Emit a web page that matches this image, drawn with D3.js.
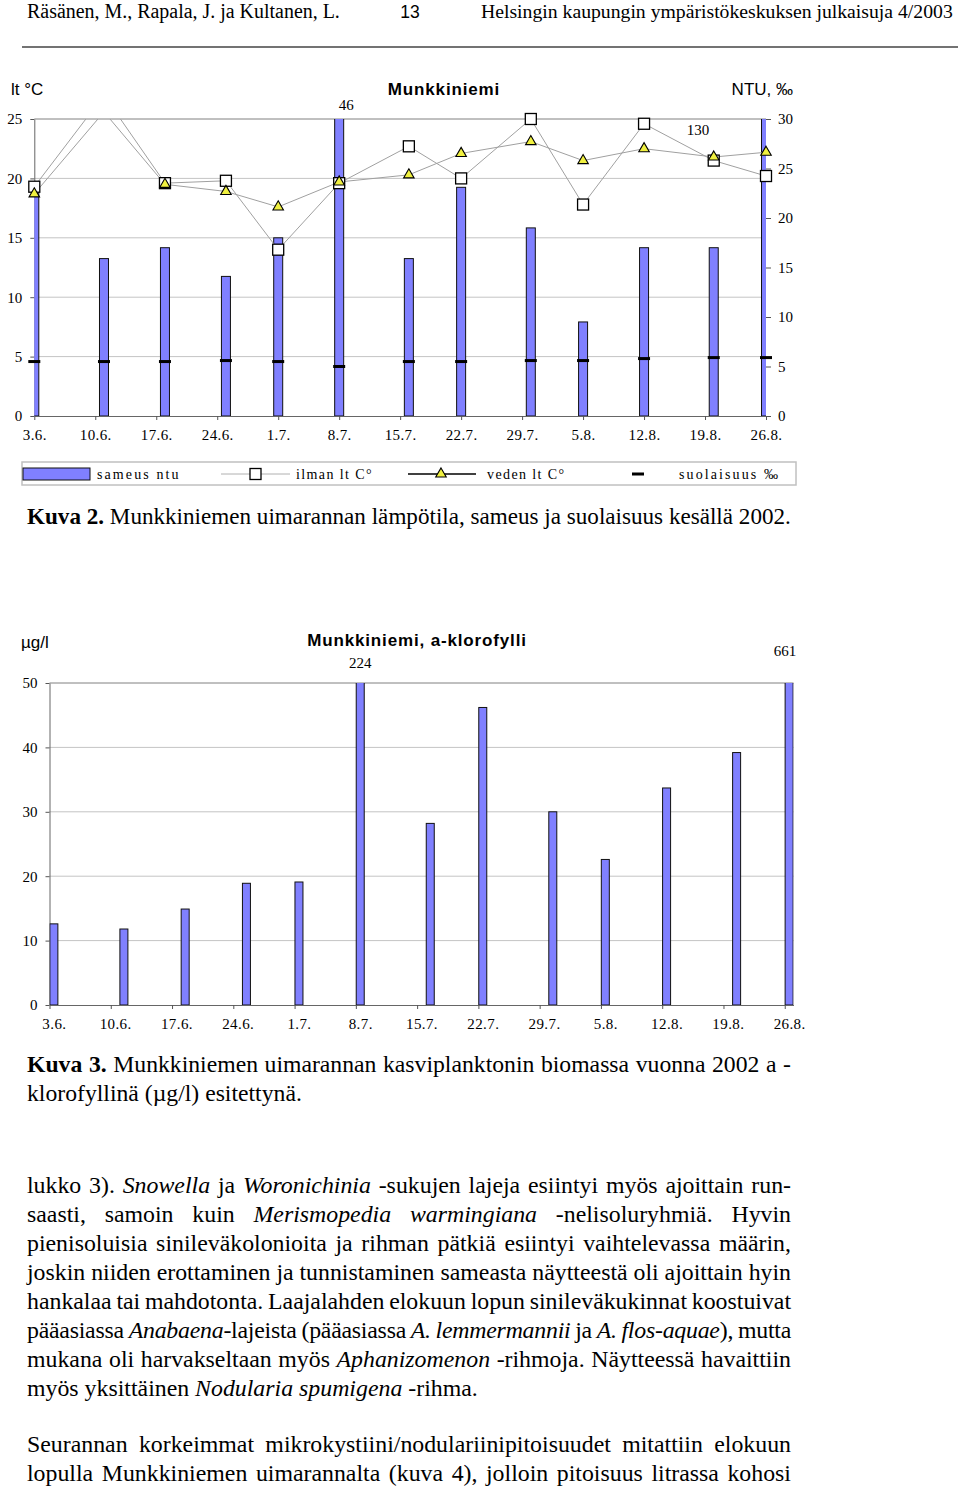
<!DOCTYPE html>
<html><head><meta charset="utf-8">
<script src="https://cdn.jsdelivr.net/npm/d3@7"></script>
<style>
body{margin:0;background:#fff;}
svg{display:block;}
</style></head><body>
<script>
// ---------- DATA ----------
const sampleDates = ["2002-06-03","2002-06-11","2002-06-18","2002-06-25","2002-07-01","2002-07-08","2002-07-16","2002-07-22","2002-07-30","2002-08-05","2002-08-12","2002-08-20","2002-08-26"];
const tickDates = ["2002-06-03","2002-06-10","2002-06-17","2002-06-24","2002-07-01","2002-07-08","2002-07-15","2002-07-22","2002-07-29","2002-08-05","2002-08-12","2002-08-19","2002-08-26"];
const tickLabels = ["3.6.","10.6.","17.6.","24.6.","1.7.","8.7.","15.7.","22.7.","29.7.","5.8.","12.8.","19.8.","26.8."];
const turbidity = [23.3,15.9,17.0,14.1,18.0,46,15.9,23.1,19.0,9.5,17.0,17.0,130];
const airTemp   = [19.3,27.0,19.6,19.8,14.0,19.6,22.7,20.0,25.0,17.8,24.6,21.5,20.2];
const waterTemp = [18.7,25.6,19.5,18.9,17.6,19.7,20.3,22.1,23.1,21.5,22.5,21.8,22.2];
const salinity  = [5.5,5.5,5.5,5.6,5.5,5.0,5.5,5.5,5.6,5.6,5.8,5.9,5.9];
const chlorophyll = [12.6,11.8,14.9,18.9,19.1,224,28.2,46.2,30.0,22.6,33.7,39.2,661];
const tempTicks = [0,5,10,15,20,25];
const rightTicks = [0,5,10,15,20,25,30];
const chlTicks = [0,10,20,30,40,50];
const legendLabels = ["sameus ntu","ilman lt C°","veden lt C°","suolaisuus ‰"];

// ---------- SETUP ----------
const SERIF = "'Liberation Serif','Times New Roman',serif";
const SANS = "'Liberation Sans',Arial,sans-serif";
const BAR = "#8080ff";
const svg = d3.select("body").append("svg").attr("width",960).attr("height",1490)
  .style("font-family",SERIF);
const parse = d3.utcParse("%Y-%m-%d");
const sd = sampleDates.map(parse), td = tickDates.map(parse);

function fit(sel, width){
  const w = sel.node().getComputedTextLength();
  const fs = parseFloat(sel.attr("font-size"));
  sel.attr("font-size", fs*width/w);
  return sel;
}

// rich text line: '*' toggles bold, '_' toggles italic
function richLine(g, str, x, y, fs, width, justify){
  const tokens = str.split(" ");
  let bold=false, ital=false;
  const nodes = [];
  tokens.forEach(tok=>{
    const t = g.append("text").attr("y",y).attr("font-size",fs).attr("fill","#000");
    let buf="";
    const flush=()=>{ if(buf){ t.append("tspan").attr("font-weight",bold?"bold":"normal").attr("font-style",ital?"italic":"normal").text(buf); buf=""; } };
    for(const ch of tok){
      if(ch==="*"){flush(); bold=!bold;}
      else if(ch==="_"){flush(); ital=!ital;}
      else buf+=ch;
    }
    flush();
    nodes.push(t);
  });
  let widths = nodes.map(n=>n.node().getComputedTextLength());
  let total = d3.sum(widths);
  let gap = (justify && nodes.length>1) ? (width-total)/(nodes.length-1) : fs*0.25;
  const minGap = fs*0.2;
  if(justify && gap < minGap){
    const chars = d3.sum(nodes, n=>n.text().length);
    const ls = ((nodes.length-1)*minGap - (width-total))/chars;
    nodes.forEach(n=>n.style("letter-spacing",(-ls)+"px"));
    widths = nodes.map(n=>n.node().getComputedTextLength());
    total = d3.sum(widths);
    gap = (width-total)/(nodes.length-1);
  }
  let cx = x;
  nodes.forEach((n,i)=>{ n.attr("x",cx); cx += widths[i]+gap; });
  return total + fs*0.25*(nodes.length-1);
}
function naturalSize(str, width){
  const g = svg.append("g");
  const w = richLine(g, str, 0, -100, 100, 0, false);
  g.remove();
  return 100*width/w;
}

// ---------- HEADER ----------
fit(svg.append("text").attr("x",27).attr("y",18).attr("font-size",18).text("Räsänen, M., Rapala, J. ja Kultanen, L."), 313);
svg.append("text").attr("x",410).attr("y",18).attr("text-anchor","middle").attr("font-size",17.5)
  .style("font-family",SANS).text("13");
fit(svg.append("text").attr("x",481).attr("y",18).attr("font-size",18).text("Helsingin kaupungin ympäristökeskuksen julkaisuja 4/2003"), 472);
svg.append("line").attr("x1",22).attr("x2",958).attr("y1",47).attr("y2",47).attr("stroke","#444").attr("stroke-width",1.3);

// ---------- CHART 1 ----------
{
  const L=34.3, R=766, T=119, B=416;
  const x = d3.scaleUtc().domain([sd[0], sd[12]]).range([L,R]);
  const yL = d3.scaleLinear().domain([0,25]).range([B,T]);
  const yR = d3.scaleLinear().domain([0,30]).range([B,T]);
  const g = svg.append("g");
  g.append("clipPath").attr("id","clip1").append("rect").attr("x",L).attr("y",T).attr("width",R-L).attr("height",B-T);

  g.selectAll(".grid").data([5,10,15,20]).join("line")
    .attr("x1",L).attr("x2",R).attr("y1",d=>yL(d)).attr("y2",d=>yL(d)).attr("stroke","#c4c4c4");
  g.append("line").attr("x1",L).attr("x2",R).attr("y1",yL(25)).attr("y2",yL(25)).attr("stroke","#808080");

  const axL = g.append("g").attr("transform",`translate(${L},0)`)
    .call(d3.axisLeft(yL).tickValues(tempTicks).tickSize(4).tickSizeOuter(0).tickPadding(8));
  const axR = g.append("g").attr("transform",`translate(${R},0)`)
    .call(d3.axisRight(yR).tickValues(rightTicks).tickSize(5).tickSizeOuter(0).tickPadding(7));
  const axB = g.append("g").attr("transform",`translate(0,${B})`)
    .call(d3.axisBottom(x).tickValues(td).tickFormat((d,i)=>tickLabels[i]).tickSize(4).tickSizeOuter(0).tickPadding(9));
  [axL,axR,axB].forEach(a=>{
    a.selectAll("text").attr("font-family",SERIF).attr("font-size",15).attr("fill","#000");
    a.selectAll("line").attr("stroke","#555");
    a.select(".domain").attr("stroke","#666");
  });
  axB.selectAll("text").style("letter-spacing","0.4px");
  axR.select(".domain").attr("stroke","none");

  const cg = g.append("g").attr("clip-path","url(#clip1)");
  cg.selectAll("rect.bar").data(turbidity).join("rect").attr("class","bar")
    .attr("x",(d,i)=>x(sd[i])-4.5).attr("width",9)
    .attr("y",d=>yR(d)).attr("height",d=>B-yR(d))
    .attr("fill",BAR).attr("stroke","#111").attr("stroke-width",1);

  const lineT = d3.line().x((d,i)=>x(sd[i])).y(d=>yL(d));
  cg.append("path").attr("d",lineT(airTemp)).attr("fill","none").attr("stroke","#a0a0a0").attr("stroke-width",1);
  cg.append("path").attr("d",lineT(waterTemp)).attr("fill","none").attr("stroke","#a0a0a0").attr("stroke-width",1);

  g.selectAll("rect.sal").data(salinity).join("rect").attr("class","sal")
    .attr("x",(d,i)=>x(sd[i])-6).attr("width",12)
    .attr("y",d=>yR(d)-1.5).attr("height",3).attr("fill","#000");

  const airPts = airTemp.map((v,i)=>({v,i})).filter(p=>p.v<=25.3);
  g.selectAll("rect.air").data(airPts).join("rect").attr("class","air")
    .attr("x",p=>x(sd[p.i])-5.5).attr("y",p=>yL(p.v)-5.5).attr("width",11).attr("height",11)
    .attr("fill","#fff").attr("stroke","#000").attr("stroke-width",1.3);
  const watPts = waterTemp.map((v,i)=>({v,i})).filter(p=>p.v<=25.3);
  const tri = d3.symbol().type(d3.symbolTriangle).size(48);
  g.selectAll("path.wat").data(watPts).join("path").attr("class","wat")
    .attr("transform",p=>`translate(${x(sd[p.i])},${yL(p.v)})`).attr("d",tri)
    .attr("fill","#f0f040").attr("stroke","#000").attr("stroke-width",1.1);

  g.append("text").attr("x",x(sd[5])+7).attr("y",110).attr("text-anchor","middle").attr("font-size",15).text(turbidity[5]);
  g.append("text").attr("x",698).attr("y",135).attr("text-anchor","middle").attr("font-size",15).text(turbidity[12]);

  g.append("text").attr("x",11).attr("y",95).attr("font-size",17).style("font-family",SANS).text("lt °C");
  g.append("text").attr("x",444).attr("y",95).attr("text-anchor","middle").attr("font-size",17).attr("font-weight","bold")
    .style("font-family",SANS).style("letter-spacing","0.85px").text("Munkkiniemi");
  g.append("text").attr("x",793).attr("y",95).attr("text-anchor","end").attr("font-size",17).style("font-family",SANS).text("NTU, ‰");

  const lg = svg.append("g");
  lg.append("rect").attr("x",22).attr("y",462).attr("width",774).attr("height",23).attr("fill","#fff").attr("stroke","#c0c0c0").attr("stroke-width",1.5);
  const ly = 474;
  lg.append("rect").attr("x",23).attr("y",ly-6).attr("width",67).attr("height",12).attr("fill",BAR).attr("stroke","#111");
  lg.append("line").attr("x1",221).attr("x2",290).attr("y1",ly).attr("y2",ly).attr("stroke","#b0b0b0");
  lg.append("rect").attr("x",250).attr("y",ly-5.5).attr("width",11).attr("height",11).attr("fill","#fff").attr("stroke","#000").attr("stroke-width",1.3);
  lg.append("line").attr("x1",408).attr("x2",476).attr("y1",ly).attr("y2",ly).attr("stroke","#000").attr("stroke-width",1.5);
  lg.append("path").attr("transform",`translate(441,${ly})`).attr("d",tri).attr("fill","#f0f040").attr("stroke","#000").attr("stroke-width",1.1);
  lg.append("rect").attr("x",632).attr("y",ly-1.5).attr("width",12).attr("height",3).attr("fill","#000");
  const lx = [97,296,487,679];
  const lsp = ["2.1px","1.4px","1.4px","2.1px"];
  lg.selectAll("text.lt").data(legendLabels).join("text").attr("class","lt")
    .attr("x",(d,i)=>lx[i]).attr("y",ly+5).attr("font-size",14).style("letter-spacing",(d,i)=>lsp[i]).text(d=>d);
}

// ---------- CAPTION 2 ----------
{
  const s = "*Kuva 2.* Munkkiniemen uimarannan lämpötila, sameus ja suolaisuus kesällä 2002.";
  const fs = naturalSize(s, 764);
  richLine(svg.append("g"), s, 27, 524, fs, 764, false);
}

// ---------- CHART 2 ----------
{
  const L=49.5, R=793.5, T=683, B=1005;
  const x = d3.scaleUtc().domain([d3.utcHour.offset(sd[0],-12), d3.utcHour.offset(sd[12],12)]).range([L,R]);
  const y = d3.scaleLinear().domain([0,50]).range([B,T]);
  const half = x(sd[0]) - L;
  const g = svg.append("g");
  g.append("clipPath").attr("id","clip2").append("rect").attr("x",L).attr("y",T).attr("width",R-L).attr("height",B-T);
  g.selectAll(".grid").data([10,20,30,40]).join("line")
    .attr("x1",L).attr("x2",R).attr("y1",d=>y(d)).attr("y2",d=>y(d)).attr("stroke","#c4c4c4");
  g.append("line").attr("x1",L).attr("x2",R).attr("y1",y(50)).attr("y2",y(50)).attr("stroke","#808080");
  const axL = g.append("g").attr("transform",`translate(${L},0)`)
    .call(d3.axisLeft(y).tickValues(chlTicks).tickSize(4).tickSizeOuter(0).tickPadding(8));
  const axB = g.append("g").attr("transform",`translate(0,${B})`)
    .call(d3.axisBottom(x).tickValues(td.map(d=>d3.utcHour.offset(d,-12))).tickFormat((d,i)=>tickLabels[i]).tickSize(4).tickSizeOuter(0).tickPadding(9));
  axB.selectAll("text").attr("x",half);
  [axL,axB].forEach(a=>{
    a.selectAll("text").attr("font-family",SERIF).attr("font-size",15).attr("fill","#000");
    a.selectAll("line").attr("stroke","#555");
    a.select(".domain").attr("stroke","#666");
  });
  axB.selectAll("text").style("letter-spacing","0.4px");
  g.append("g").attr("clip-path","url(#clip2)").selectAll("rect").data(chlorophyll).join("rect")
    .attr("x",(d,i)=>x(sd[i])-4).attr("width",8)
    .attr("y",d=>y(d)).attr("height",d=>B-y(d))
    .attr("fill",BAR).attr("stroke","#111").attr("stroke-width",1);
  g.append("text").attr("x",x(sd[5])).attr("y",668).attr("text-anchor","middle").attr("font-size",15).text(chlorophyll[5]);
  g.append("text").attr("x",785).attr("y",656).attr("text-anchor","middle").attr("font-size",15).text(chlorophyll[12]);
  g.append("text").attr("x",21).attr("y",648).attr("font-size",17).style("font-family",SANS).text("µg/l");
  g.append("text").attr("x",417).attr("y",646).attr("text-anchor","middle").attr("font-size",17).attr("font-weight","bold")
    .style("font-family",SANS).style("letter-spacing","0.85px").text("Munkkiniemi, a-klorofylli");
}

// ---------- CAPTION 3 ----------
{
  const l1 = "*Kuva 3.* Munkkiniemen uimarannan kasviplanktonin biomassa vuonna 2002 a -";
  const l2 = "klorofyllinä (µg/l) esitettynä.";
  const fs = naturalSize(l2, 275);
  richLine(svg.append("g"), l1, 27, 1072, fs, 764, true);
  richLine(svg.append("g"), l2, 27, 1101, fs, 764, false);
}

// ---------- BODY TEXT ----------
{
  const para1 = [
    "lukko 3). _Snowella_ ja _Woronichinia_ -sukujen lajeja esiintyi myös ajoittain run-",
    "saasti, samoin kuin _Merismopedia warmingiana_ -nelisoluryhmiä. Hyvin",
    "pienisoluisia sinileväkolonioita ja rihman pätkiä esiintyi vaihtelevassa määrin,",
    "joskin niiden erottaminen ja tunnistaminen sameasta näytteestä oli ajoittain hyin",
    "hankalaa tai mahdotonta. Laajalahden elokuun lopun sinileväkukinnat koostuivat",
    "pääasiassa _Anabaena_-lajeista (pääasiassa _A. lemmermannii_ ja _A. flos-aquae_), mutta",
    "mukana oli harvakseltaan myös _Aphanizomenon_ -rihmoja. Näytteessä havaittiin",
    "myös yksittäinen _Nodularia spumigena_ -rihma."
  ];
  const para2 = [
    "Seurannan korkeimmat mikrokystiini/nodulariinipitoisuudet mitattiin elokuun",
    "lopulla Munkkiniemen uimarannalta (kuva 4), jolloin pitoisuus litrassa kohosi"
  ];
  const fs = naturalSize(para1[7], 451);
  const g = svg.append("g");
  para1.forEach((l,i)=>richLine(g, l, 27, 1193+i*29, fs, 764, i<7));
  para2.forEach((l,i)=>richLine(g, l, 27, 1452+i*29, fs, 764, true));
}
</script>
</body></html>
